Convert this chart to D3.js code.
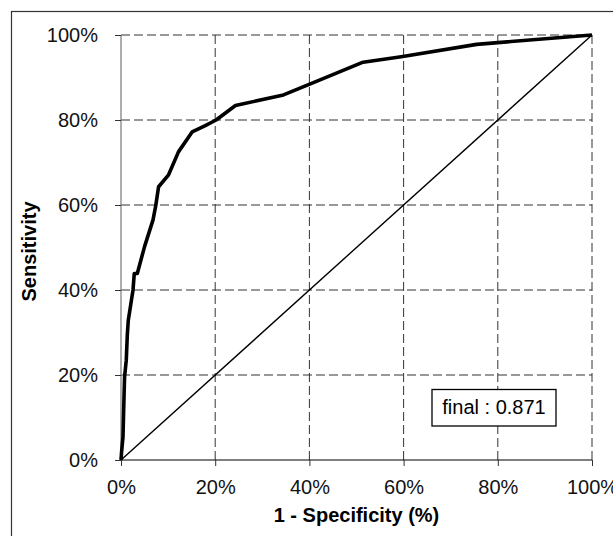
<!DOCTYPE html>
<html>
<head>
<meta charset="utf-8">
<script src="https://cdn.jsdelivr.net/npm/d3@7"></script>
<style>
  body { margin: 0; background: #fff; }
  svg { display: block; font-family: "Liberation Sans", Arial, sans-serif; }
</style>
</head>
<body>
<script>
// ROC curve points (percent)
const fpr = [0, 0.13, 0.42, 0.64, 0.76, 1.12, 1.34, 1.55, 2.55, 2.82, 3.46, 5.0, 6.8, 7.34, 7.98, 10.1, 12.2, 15.1, 17.9, 20.2, 24.3, 34.5, 40.2, 51.4, 59.5, 75.5, 100];
const tpr = [0, 1.95, 5.4, 14.9, 19.6, 23.5, 29.4, 32.9, 40, 43.9, 43.9, 50.2, 56.5, 59.6, 64.3, 67.1, 72.5, 77.2, 78.7, 80, 83.4, 85.9, 88.5, 93.6, 94.9, 97.8, 100];
const diagonal = [0, 100];
const ticks = [0, 20, 40, 60, 80, 100];
const aucLabel = "final : 0.871";

const width = 613;
const height = 536;
const margin = { top: 35, right: 21, bottom: 76, left: 121 };

const svg = d3.select("body")
  .append("svg")
  .attr("width", width)
  .attr("height", height);

// outer frame (runs off the right and bottom edges)
svg.append("rect")
  .attr("x", 11.5)
  .attr("y", 11.5)
  .attr("width", width)
  .attr("height", height)
  .attr("fill", "none")
  .attr("stroke", "#333")
  .attr("stroke-width", 1.2);

const x = d3.scaleLinear()
  .domain([0, 100])
  .range([margin.left, width - margin.right]);

const y = d3.scaleLinear()
  .domain([0, 100])
  .range([height - margin.bottom, margin.top]);

// dashed grid
svg.append("g")
  .selectAll("line")
  .data(ticks.slice(1))
  .join("line")
  .attr("x1", d => x(d))
  .attr("x2", d => x(d))
  .attr("y1", y(0))
  .attr("y2", y(100))
  .attr("stroke", "#333")
  .attr("stroke-dasharray", "9,4");

svg.append("g")
  .selectAll("line")
  .data(ticks.slice(1))
  .join("line")
  .attr("x1", x(0))
  .attr("x2", x(100))
  .attr("y1", d => y(d))
  .attr("y2", d => y(d))
  .attr("stroke", "#333")
  .attr("stroke-dasharray", "9,4");

// axes
const fmt = d => d + "%";

const xAxis = svg.append("g")
  .attr("transform", `translate(0, ${y(0)})`)
  .call(d3.axisBottom(x).tickValues(ticks).tickFormat(fmt).tickSize(6).tickPadding(14));

const yAxis = svg.append("g")
  .attr("transform", `translate(${x(0)}, 0)`)
  .call(d3.axisLeft(y).tickValues(ticks).tickFormat(fmt).tickSize(6).tickPadding(17));

xAxis.select(".domain").attr("stroke", "#000").attr("stroke-width", 1.2).attr("d", `M${x(0)},0H${x(100)}`);
yAxis.select(".domain").attr("stroke", "#777").attr("stroke-width", 1.2).attr("d", `M0,${y(0)}V${y(100)}`);
xAxis.selectAll(".tick line").attr("stroke", "#333");
yAxis.selectAll(".tick line").attr("stroke", "#333");
svg.selectAll(".tick text")
  .attr("font-family", "'Liberation Sans', Arial, sans-serif")
  .attr("font-size", 20)
  .attr("fill", "#111");

// diagonal reference line
svg.append("line")
  .attr("x1", x(diagonal[0]))
  .attr("y1", y(diagonal[0]))
  .attr("x2", x(diagonal[1]))
  .attr("y2", y(diagonal[1]))
  .attr("stroke", "#000")
  .attr("stroke-width", 1.4);

// ROC curve
const line = d3.line()
  .x((d, i) => x(fpr[i]))
  .y(d => y(d));

svg.append("path")
  .datum(tpr)
  .attr("d", line)
  .attr("fill", "none")
  .attr("stroke", "#000")
  .attr("stroke-width", 3.6)
  .attr("stroke-linejoin", "round");

// axis titles
svg.append("text")
  .attr("x", (x(0) + x(100)) / 2)
  .attr("y", 522)
  .attr("text-anchor", "middle")
  .attr("font-size", 20)
  .attr("font-weight", "bold")
  .text("1 - Specificity (%)");

svg.append("text")
  .attr("transform", `translate(36, ${(y(0) + y(100)) / 2 + 4}) rotate(-90)`)
  .attr("text-anchor", "middle")
  .attr("font-size", 20)
  .attr("font-weight", "bold")
  .text("Sensitivity");

// AUC box
const box = svg.append("g");
box.append("rect")
  .attr("x", 432)
  .attr("y", 389.5)
  .attr("width", 124)
  .attr("height", 36.5)
  .attr("fill", "#fff")
  .attr("stroke", "#000")
  .attr("stroke-width", 1.3);
box.append("text")
  .attr("x", 494)
  .attr("y", 414)
  .attr("text-anchor", "middle")
  .attr("font-size", 20)
  .text(aucLabel);
</script>
</body>
</html>
